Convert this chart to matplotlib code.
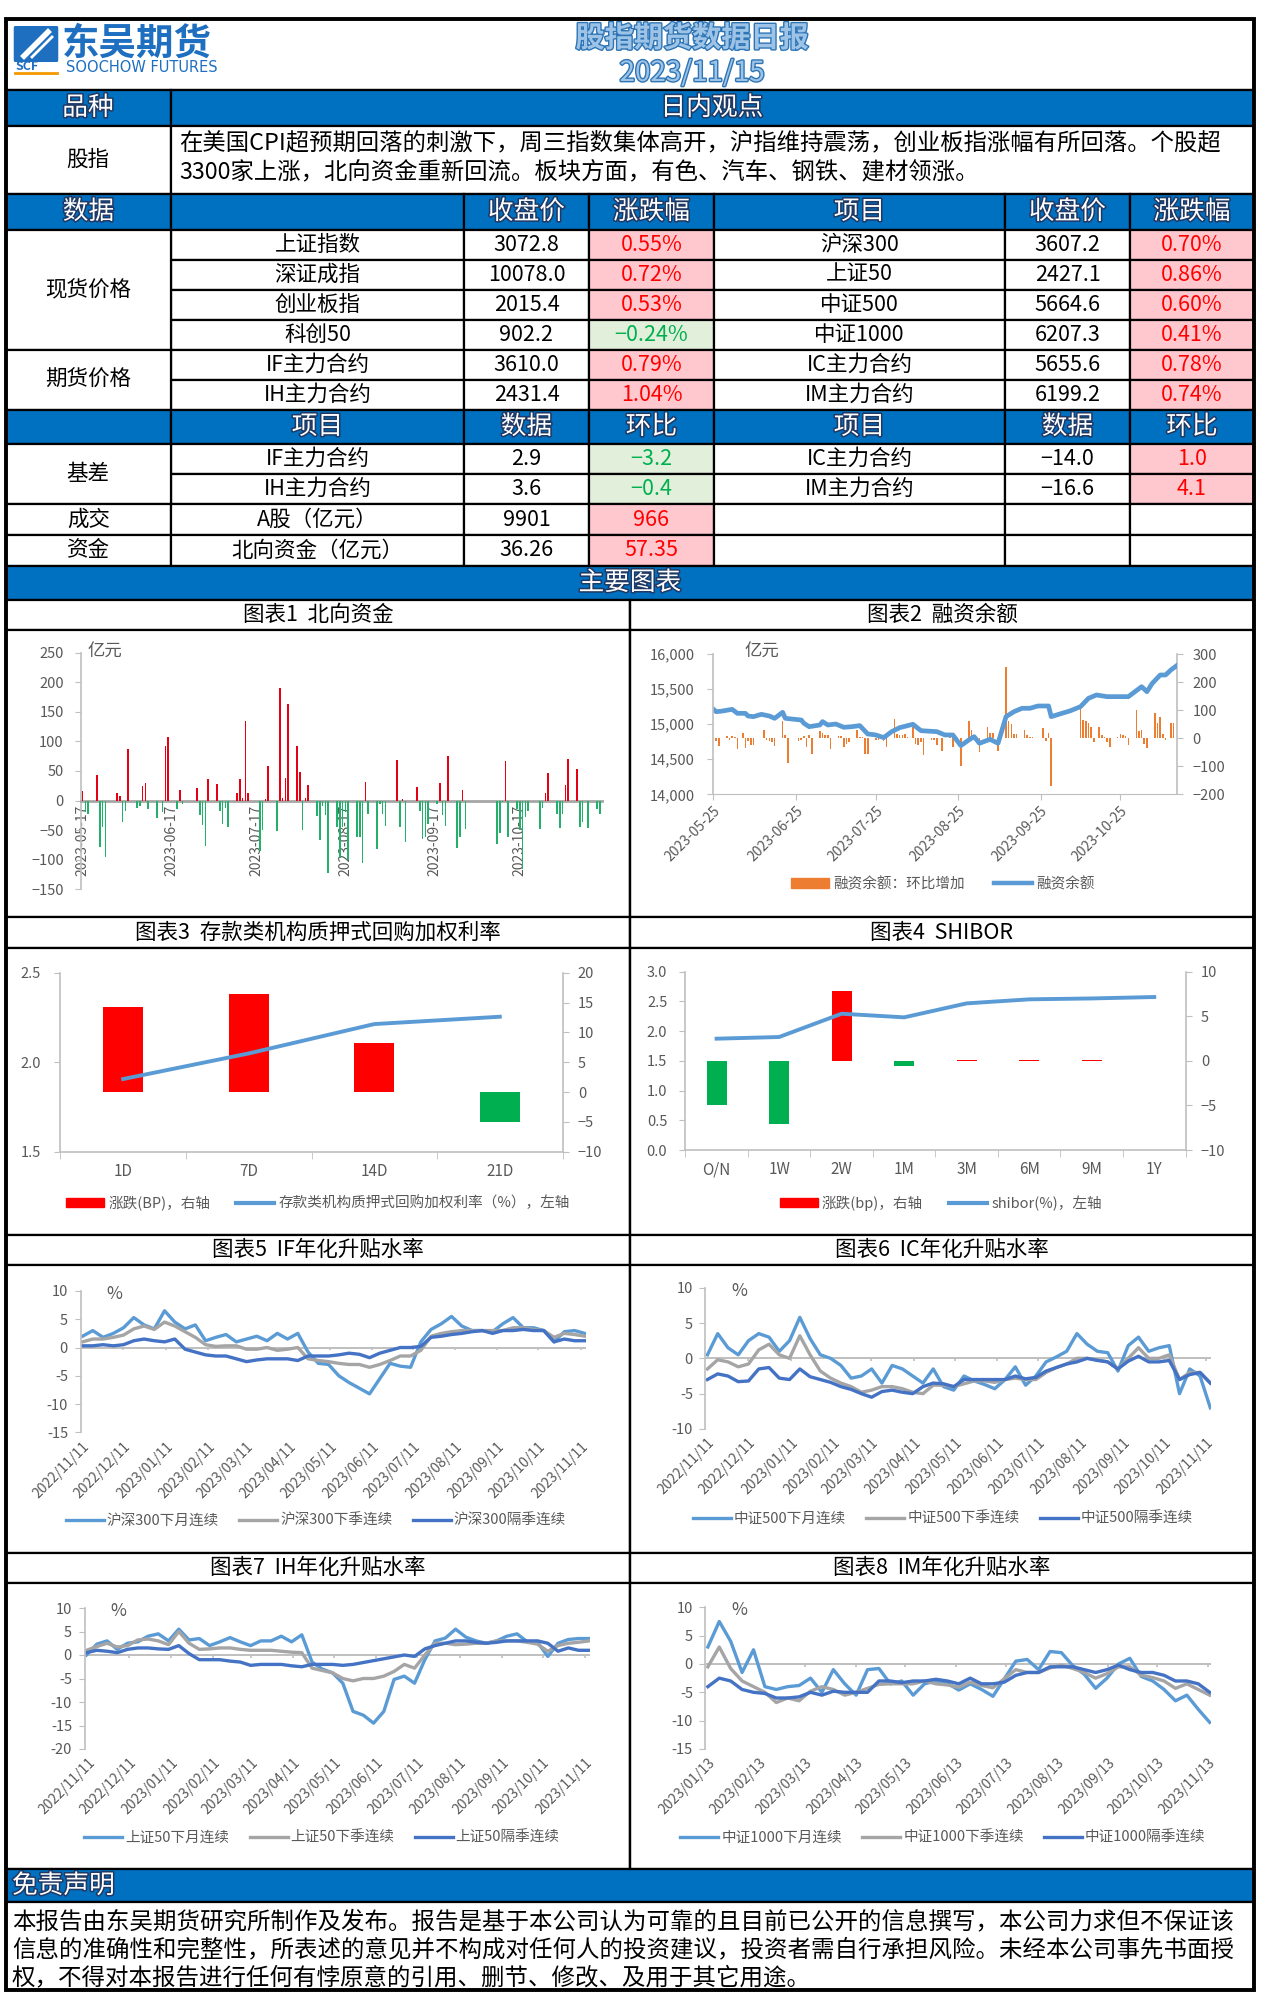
import numpy as np
import pandas as pd
import matplotlib
matplotlib.use("Agg")
import matplotlib.pyplot as plt
import matplotlib.patheffects as pe
from matplotlib.patches import Rectangle, Patch, FancyBboxPatch
from matplotlib.lines import Line2D

plt.rcParams['font.family'] = ['Noto Sans CJK SC', 'DejaVu Sans']

# ---------------- data ----------------
report_title = "股指期货数据日报"
report_date = "2023/11/15"
view_lines = ["在美国CPI超预期回落的刺激下，周三指数集体高开，沪指维持震荡，创业板指涨幅有所回落。个股超",
              "3300家上涨，北向资金重新回流。板块方面，有色、汽车、钢铁、建材领涨。"]

spot_l = ['上证指数', '深证成指', '创业板指', '科创50', 'IF主力合约', 'IH主力合约']
close_l = [3072.8, 10078.0, 2015.4, 902.2, 3610.0, 2431.4]
pct_l = [0.55, 0.72, 0.53, -0.24, 0.79, 1.04]
spot_r = ['沪深300', '上证50', '中证500', '中证1000', 'IC主力合约', 'IM主力合约']
close_r = [3607.2, 2427.1, 5664.6, 6207.3, 5655.6, 6199.2]
pct_r = [0.70, 0.86, 0.60, 0.41, 0.78, 0.74]

basis_l = ['IF主力合约', 'IH主力合约']
basis_l_val = [2.9, 3.6]
basis_l_chg = [-3.2, -0.4]
basis_r = ['IC主力合约', 'IM主力合约']
basis_r_val = [-14.0, -16.6]
basis_r_chg = [1.0, 4.1]
flow_names = ['A股（亿元）', '北向资金（亿元）']
flow_groups = ['成交', '资金']
flow_val = ['9901', '36.26']
flow_chg = ['966', '57.35']

disclaimer = ["本报告由东吴期货研究所制作及发布。报告是基于本公司认为可靠的且目前已公开的信息撰写，本公司力求但不保证该",
              "信息的准确性和完整性，所表述的意见并不构成对任何人的投资建议，投资者需自行承担风险。未经本公司事先书面授",
              "权，不得对本报告进行任何有悖原意的引用、删节、修改、及用于其它用途。"]

# chart 1: northbound flow, day offsets from 2023-05-17
north_days = [0, 1, 2, 5, 6, 7, 8, 12, 13, 14, 15, 16, 19, 20, 21, 22, 23, 26, 28, 29, 30, 33, 34, 35,
              40, 41, 42, 43, 44, 47, 48, 49, 50, 51, 54, 55, 56, 57, 58, 62, 63, 64, 65, 68, 69, 70, 71, 72,
              75, 76, 77, 78, 79, 82, 83, 84, 85, 86, 89, 90, 91, 92, 93, 96, 97, 98, 99, 100, 103, 104, 105, 106,
              110, 111, 112, 113, 117, 118, 119, 120, 121, 124, 125, 126, 127, 128, 131, 132, 133, 134,
              145, 146, 147, 148, 149, 152, 153, 154, 155, 156, 160, 161, 162, 163, 166, 167, 168, 169, 170,
              173, 174, 175, 177, 180, 181]
north_vals = [16, -20, -22, 43, -78, -45, -95, 13, 8, -37, -17, 87, -12, -10, 25, 30, -15, -30, -20, 93, 107, -14, 18, -5,
              22, -25, -42, -77, 36, 28, -18, -40, -12, -45, 12, 36, 5, 135, 12, -85, -50, 2, 58, -52, 190, 5, 38, 163,
              93, 49, -50, 5, 27, -26, -67, -10, -25, -122, -45, -97, -45, -20, -100, -62, -62, -105, 32, -23, -82, -5, -23, -43,
              68, -45, 2, -70, 23, -18, -65, -62, -40, -5, 30, -24, -43, 76, -80, -62, 18, -48,
              -73, -55, -3, 67, -62, -15, -50, -115, -28, -17, -48, -12, 12, 47, -23, -47, -22, 27, 71,
              53, -45, -37, -47, -15, -22]

# chart 2: margin balance, day offsets from 2023-05-25
bal_days = [0, 1, 3, 7, 9, 12, 13, 15, 18, 21, 23, 26, 27, 33, 34, 36, 40, 41, 43, 46, 49, 52, 55, 58, 61, 64, 67, 70,
            75, 78, 84, 87, 90, 93, 96, 98, 100, 104, 107, 110, 113, 116, 119, 122, 126, 127, 131, 134, 138, 141,
            144, 148, 153, 156, 161, 163, 165, 168, 170, 172, 174]
bal_vals = [15211, 15178, 15185, 15211, 15154, 15154, 15116, 15107, 15140, 15116, 15083, 15169, 15083, 15059, 15012,
            14964, 14988, 15036, 14988, 15002, 14955, 14964, 14979, 14860, 14846, 14808, 14893, 14950,
            14998, 14907, 14893, 14846, 14846, 14694, 14774, 14822, 14727, 14784, 14727, 15107, 15178, 15226, 15226,
            15259, 15259, 15107, 15154, 15188, 15249, 15368, 15416, 15392, 15392, 15392, 15534, 15463, 15582, 15701,
            15701, 15772, 15829]
chg_days = [1, 2, 5, 6, 7, 8, 9, 11, 12, 13, 14, 15, 19, 20, 21, 22, 23, 26, 27, 28, 32, 33, 34, 35, 36, 37,
            40, 41, 42, 43, 44, 47, 48, 49, 50, 51, 54, 55, 56, 57, 58, 61, 62, 64, 65, 68, 69, 70, 71, 72, 73,
            75, 76, 77, 78, 79, 82, 83, 84, 86, 89, 90, 93, 96, 97, 98, 100, 103, 104, 105, 107, 110, 111, 112, 113,
            114, 117, 118, 119, 120, 124, 125, 126, 127, 138, 139, 140, 141, 142, 143, 145, 146, 147, 148, 149,
            152, 153, 154, 155, 156, 159, 160, 161, 162, 163, 166, 167, 168, 169, 170, 172, 173]
chg_vals = [-10, -28, 8, -5, 8, 3, -40, 20, -35, -10, -25, -25, 30, -5, -10, -15, -28, 60, 10, -90, -10, -5, 8, -30, 10, -55,
            25, 20, 10, 10, -40, 8, 8, -30, -20, -12, 30, 5, 5, -55, -55, -5, -5, -10, -30, 70, 15, 10, 10, 15, 5,
            40, -20, -25, -15, -60, -5, -5, -25, -45, 10, -30, -100, 60, 30, 5, -50, 40, 20, 20, -45, 255, 60, 50, 15,
            15, 30, 10, 5, 5, 35, -10, 20, -170, 105, 65, 60, 55, 40, -15, 40, 10, 5, -15, -30,
            5, 15, 10, 8, -25, 100, 25, 30, -20, -35, 90, 55, 75, 15, -5, 55, 55]

# chart 3: pledged repo
repo_terms = ['1D', '7D', '14D', '21D']
repo_rate = [1.906, 2.049, 2.213, 2.254]
repo_bp = [14.3, 16.5, 8.2, -5.1]

# chart 4: shibor
shibor_terms = ['O/N', '1W', '2W', '1M', '3M', '6M', '9M', '1Y']
shibor_rate = [1.873, 1.901, 2.293, 2.232, 2.467, 2.535, 2.550, 2.574]
shibor_bp = [-5.0, -7.1, 7.8, -0.6, 0.1, 0.1, 0.1, 0.0]

# chart 5: IF annualised basis
if_next_month = [2.0, 3.0, 1.8, 2.5, 3.5, 5.3, 4.0, 3.3, 6.5, 4.5, 3.3, 4.0, 1.2, 1.8, 2.3, 1.0, 1.5, 2.0, 1.2, 2.5,
                 1.5, 2.5, -0.8, -2.8, -3.0, -5.0, -6.2, -7.2, -8.2, -5.5, -2.8, -3.3, -3.5, 1.0, 3.2, 4.2, 5.5, 3.8,
                 3.0, 3.0, 2.8, 4.2, 5.3, 3.5, 3.5, 3.0, 1.0, 2.8, 3.0, 2.5]
if_next_quarter = [1.0, 1.5, 1.5, 1.8, 2.2, 3.3, 3.8, 3.2, 4.5, 3.8, 2.8, 1.8, 0.5, 0.2, 0.3, 0.3, -0.3, -0.3, 0.0, -0.5,
                   -0.3, 0.0, -2.0, -2.3, -2.5, -2.8, -3.0, -3.0, -3.5, -3.0, -2.3, -1.5, -1.5, -0.5, 2.0, 2.5, 2.8,
                   3.0, 3.0, 3.0, 3.0, 3.0, 3.5, 3.5, 3.2, 3.0, 1.8, 2.5, 2.3, 2.0]
if_far_quarter = [0.3, 0.3, 0.5, 0.3, 0.5, 1.2, 1.5, 1.2, 1.0, 1.5, -0.3, -0.8, -1.3, -1.5, -1.5, -2.0, -2.5, -2.2, -2.0,
                  -2.0, -2.0, -2.3, -1.5, -1.5, -1.5, -1.3, -1.0, -1.2, -1.8, -1.0, -0.5, 0.0, 0.0, 0.2, 1.8, 2.0, 2.3,
                  2.5, 2.8, 3.0, 2.5, 3.0, 3.0, 3.2, 3.0, 3.0, 1.0, 1.5, 1.2, 1.2]

# chart 6: IC annualised basis
ic_next_month = [0.5, 3.5, 1.5, 0.5, 2.5, 3.5, 3.0, 1.0, 2.5, 5.8, 2.8, 0.5, 0.0, -1.0, -2.8, -2.5, -1.5, -3.5, -1.0, -1.5,
                 -2.5, -3.5, -1.5, -4.0, -4.5, -2.5, -3.2, -3.7, -4.3, -3.0, -1.2, -3.8, -2.5, -0.5, 0.2, 1.0, 3.5, 2.0,
                 1.0, 0.8, -1.8, 1.8, 3.0, 1.0, 1.5, 1.8, -5.0, -1.5, -2.5, -7.0]
ic_next_quarter = [-1.5, -0.2, -0.5, -1.2, -0.8, 1.2, 2.0, 0.5, 0.0, 3.2, 0.5, -1.8, -2.8, -3.5, -4.0, -4.8, -4.5, -4.0,
                   -4.0, -4.3, -4.8, -5.0, -3.8, -3.8, -4.0, -3.6, -3.2, -3.2, -3.4, -3.0, -2.8, -3.0, -3.0, -2.0, -1.3,
                   -0.8, 0.0, 0.0, -0.2, -0.5, -1.5, 0.0, 1.5, 0.0, 0.0, 0.5, -3.0, -2.0, -2.0, -3.5]
ic_far_quarter = [-3.0, -2.2, -2.5, -3.3, -3.2, -1.5, -1.3, -2.8, -3.0, -1.5, -2.6, -3.0, -3.4, -4.0, -4.4, -5.0, -5.5,
                  -4.7, -4.5, -4.8, -5.0, -4.0, -3.5, -3.6, -4.0, -3.0, -3.0, -3.0, -3.0, -3.0, -2.5, -2.9, -2.7, -1.8,
                  -1.3, -0.8, -0.5, 0.0, -0.3, -0.5, -1.5, -0.4, 0.3, -0.5, -0.5, -0.3, -3.0, -2.3, -2.0, -3.5]

# chart 7: IH annualised basis
ih_next_month = [0.0, 2.3, 3.0, 1.2, 2.5, 2.8, 4.0, 4.5, 3.0, 5.5, 3.2, 3.5, 2.0, 2.8, 3.7, 2.8, 2.0, 3.0, 3.0, 4.0,
                 2.8, 4.3, -1.5, -3.0, -3.8, -6.0, -12.0, -12.8, -14.5, -12.0, -5.2, -4.5, -6.0, -1.0, 3.0, 3.6, 5.5,
                 3.8, 3.0, 2.5, 3.0, 4.0, 4.5, 2.8, 2.7, -0.3, 2.5, 3.3, 3.5, 3.5]
ih_next_quarter = [1.0, 1.8, 2.5, 1.7, 2.0, 3.2, 3.4, 3.0, 2.2, 5.0, 2.5, 1.2, 1.3, 1.5, 1.5, 1.2, 1.0, 1.0, 1.0, 0.8,
                   0.6, 0.5, -2.8, -3.3, -3.8, -5.0, -5.5, -5.0, -5.0, -4.5, -3.5, -2.0, -2.8, 0.0, 2.5, 2.5, 2.2, 2.3,
                   2.5, 2.5, 3.0, 3.0, 3.0, 2.7, 2.3, 0.8, 2.0, 2.5, 2.7, 3.0]
ih_far_quarter = [0.5, 1.0, 0.8, 0.5, 1.2, 1.5, 1.5, 1.3, 1.2, 2.0, 0.3, -1.0, -1.0, -1.0, -1.3, -1.5, -2.2, -2.0, -2.0,
                  -2.0, -2.3, -2.5, -2.0, -2.0, -2.0, -2.2, -2.0, -1.6, -1.2, -0.8, -0.4, 0.0, -0.3, 1.3, 2.0, 2.5, 3.0,
                  3.0, 2.7, 2.5, 2.7, 3.0, 3.0, 3.0, 3.0, 2.5, 0.8, 1.5, 1.0, 1.0]

# chart 8: IM annualised basis
im_next_month = [3.0, 7.5, 4.0, -1.5, 2.5, -4.0, -4.5, -4.0, -3.8, -2.5, -5.0, -1.0, -3.5, -5.5, -1.0, -0.8, -3.5, -3.0,
                 -5.5, -3.5, -3.0, -3.4, -4.6, -3.5, -4.5, -5.7, -2.6, 0.5, 0.8, -1.0, 2.2, 2.0, -0.3, -1.8, -4.3,
                 -2.5, 0.0, 1.0, -2.2, -3.0, -4.5, -6.5, -5.5, -8.0, -10.3]
im_next_quarter = [-0.5, 3.0, -0.8, -3.0, -4.0, -5.0, -6.8, -6.0, -6.5, -4.8, -4.0, -4.5, -5.5, -5.0, -4.3, -3.6, -3.5,
                   -3.5, -3.5, -3.0, -3.5, -3.7, -4.1, -3.2, -3.8, -4.2, -2.6, -1.0, -1.5, -1.5, -0.7, -0.2, -0.8, -1.5,
                   -2.5, -1.7, -0.5, -0.5, -2.0, -2.4, -3.0, -4.3, -3.5, -4.5, -5.5]
im_far_quarter = [-4.0, -2.5, -3.0, -4.5, -5.0, -5.2, -6.0, -6.0, -5.8, -5.0, -5.5, -4.8, -5.0, -5.0, -5.0, -3.0, -3.0,
                  -3.3, -3.0, -3.0, -2.7, -3.0, -3.5, -2.5, -3.5, -3.5, -3.2, -2.0, -1.5, -1.5, -0.5, -0.5, -0.5, -1.0,
                  -1.5, -1.0, -0.2, -1.0, -1.5, -1.5, -2.0, -3.0, -3.0, -3.5, -5.0]

# ---------------- layout ----------------
W, H = 1262, 2011
fig = plt.figure(figsize=(W / 100, H / 100), dpi=100)
BLUE = '#0070c0'
GREY_AX = '#bfbfbf'
GREY_TX = '#595959'
LINE_COLS = ['#5b9bd5', '#a5a5a5', '#4472c4']
cols = [6, 171, 464, 589, 714, 1005, 1130, 1254]
CELL_FS = 15.5


def box(x0, y0, x1, y1, fc='white', ec='black', lw=1.6, z=-1):
    fig.add_artist(Rectangle((x0 / W, 1 - y1 / H), (x1 - x0) / W, (y1 - y0) / H, transform=fig.transFigure,
                             facecolor=fc, edgecolor=ec, lw=lw, zorder=z))


def put(x, y, s, size=15, color='black', ha='center', outline=None, weight='normal'):
    t = fig.text(x / W, 1 - y / H, s, ha=ha, va='center', fontsize=size, color=color, fontweight=weight)
    if outline:
        t.set_path_effects([pe.withStroke(linewidth=2.2, foreground=outline)])
    return t


def head(x, y, s, ha='center', size=18.5):
    put(x, y, s, size, 'white', ha, outline='#1f3864')


def add_ax(x0, y0, x1, y1):
    return fig.add_axes([x0 / W, 1 - y1 / H, (x1 - x0) / W, (y1 - y0) / H])


def fmt_num(v, nd):
    return f"{v:.{nd}f}".replace('-', '−')


def chg_cell(c, r0, r1, v, s):
    if v >= 0:
        fill, color = '#ffc7ce', '#ff0000'
    else:
        fill, color = '#e2efda', '#00b050'
    box(cols[c], r0, cols[c + 1], r1, fc=fill)
    put((cols[c] + cols[c + 1]) / 2, (r0 + r1) / 2, s, CELL_FS, color)


def cell(c, r0, r1, s, fc='white'):
    box(cols[c], r0, cols[c + 1], r1, fc=fc)
    if s:
        put((cols[c] + cols[c + 1]) / 2, (r0 + r1) / 2, s, CELL_FS)


# header with logo
box(6, 19, 1254, 90)
fig.add_artist(FancyBboxPatch((15 / W, 1 - 60 / H), 42 / W, 32 / H, boxstyle="round,pad=0.001",
                              transform=fig.transFigure, facecolor='#1f6fc1', edgecolor='none', zorder=2))
fig.add_artist(Line2D([24 / W, 48 / W], [1 - 56 / H, 1 - 32 / H], transform=fig.transFigure, color='white', lw=4, zorder=3))
fig.add_artist(Line2D([32 / W, 52 / W], [1 - 57 / H, 1 - 37 / H], transform=fig.transFigure, color='white', lw=2, zorder=3))
put(62, 43, "东吴期货", 27, '#1f6fc1', ha='left', weight='bold')
put(15, 67, "SCF", 9, '#1f6fc1', ha='left', weight='bold')
fig.add_artist(Line2D([15 / W, 57 / W], [1 - 73 / H, 1 - 73 / H], transform=fig.transFigure, color='#f39800', lw=2, zorder=3))
fig.text(66 / W, 1 - 67 / H, "SOOCHOW FUTURES", ha='left', va='center', fontsize=10.5, color='#1f6fc1',
         family=['DejaVu Sans Condensed', 'DejaVu Sans'])
t = put(692, 38, report_title, 21, '#9dc3e6', weight='bold')
t.set_path_effects([pe.withStroke(linewidth=2, foreground='#2e75b6')])
t = put(692, 73, report_date, 20, '#9dc3e6')
t.set_path_effects([pe.withStroke(linewidth=2, foreground='#2e75b6')])

# view row
box(6, 90, 171, 126, fc=BLUE)
box(171, 90, 1254, 126, fc=BLUE)
head(88, 108, "品种")
head(712, 108, "日内观点")
box(6, 126, 171, 194)
box(171, 126, 1254, 194)
put(88, 160, "股指", CELL_FS)
put(179, 143, view_lines[0], 16.8, ha='left')
put(179, 172, view_lines[1], 16.8, ha='left')

# price table
hdr1 = ['数据', '', '收盘价', '涨跌幅', '项目', '收盘价', '涨跌幅']
for c, s in enumerate(hdr1):
    box(cols[c], 194, cols[c + 1], 230, fc=BLUE)
    if s:
        head((cols[c] + cols[c + 1]) / 2, 212, s)
edges = [230, 260, 290, 320, 350, 380, 410]
for i in range(6):
    r0, r1 = edges[i], edges[i + 1]
    cell(1, r0, r1, spot_l[i])
    cell(2, r0, r1, fmt_num(close_l[i], 1))
    chg_cell(3, r0, r1, pct_l[i], fmt_num(pct_l[i], 2) + '%')
    cell(4, r0, r1, spot_r[i])
    cell(5, r0, r1, fmt_num(close_r[i], 1))
    chg_cell(6, r0, r1, pct_r[i], fmt_num(pct_r[i], 2) + '%')
box(6, 230, 171, 350)
put(88, 290, "现货价格", CELL_FS)
box(6, 350, 171, 410)
put(88, 380, "期货价格", CELL_FS)

hdr2 = ['', '项目', '数据', '环比', '项目', '数据', '环比']
for c, s in enumerate(hdr2):
    box(cols[c], 410, cols[c + 1], 444, fc=BLUE)
    if s:
        head((cols[c] + cols[c + 1]) / 2, 427, s)
edges2 = [444, 474, 504]
for i in range(2):
    r0, r1 = edges2[i], edges2[i + 1]
    cell(1, r0, r1, basis_l[i])
    cell(2, r0, r1, fmt_num(basis_l_val[i], 1))
    chg_cell(3, r0, r1, basis_l_chg[i], fmt_num(basis_l_chg[i], 1))
    cell(4, r0, r1, basis_r[i])
    cell(5, r0, r1, fmt_num(basis_r_val[i], 1))
    chg_cell(6, r0, r1, basis_r_chg[i], fmt_num(basis_r_chg[i], 1))
box(6, 444, 171, 504)
put(88, 474, "基差", CELL_FS)
edges3 = [504, 535, 566]
for i in range(2):
    r0, r1 = edges3[i], edges3[i + 1]
    cell(0, r0, r1, flow_groups[i])
    cell(1, r0, r1, flow_names[i])
    cell(2, r0, r1, flow_val[i])
    chg_cell(3, r0, r1, float(flow_chg[i]), flow_chg[i])
    for c in (4, 5, 6):
        cell(c, r0, r1, '')

box(6, 566, 1254, 600, fc=BLUE)
head(630, 583, "主要图表")

# chart frames
panel_rows = [(600, 630, 917), (917, 948, 1235), (1235, 1265, 1553), (1553, 1583, 1869)]
titles = [("图表1  北向资金", "图表2  融资余额"),
          ("图表3  存款类机构质押式回购加权利率", "图表4  SHIBOR"),
          ("图表5  IF年化升贴水率", "图表6  IC年化升贴水率"),
          ("图表7  IH年化升贴水率", "图表8  IM年化升贴水率")]
for (t0, t1, t2), (ta, tb) in zip(panel_rows, titles):
    box(6, t0, 630, t1)
    box(630, t0, 1254, t1)
    box(6, t1, 630, t2)
    box(630, t1, 1254, t2)
    put(318, (t0 + t1) / 2, ta, 15.5)
    put(942, (t0 + t1) / 2, tb, 15.5)


def style_y(ax, side='left', pad=8):
    ax.tick_params(axis='y', which='both', direction='out', length=4, color=GREY_AX, labelcolor=GREY_TX,
                   labelsize=10.5, pad=pad)
    ax.spines[side].set_color(GREY_AX)
    ax.spines[side].set_linewidth(1.2)


def day_axis(start, offsets):
    return pd.Timestamp(start) + pd.to_timedelta(offsets, unit='D')


# chart 1
ax1 = add_ax(80.5, 652.7, 602, 889.3)
d1 = day_axis('2023-05-17', north_days)
ax1.bar(d1, north_vals, width=0.6, color=['#e60012' if v >= 0 else '#22b06b' for v in north_vals], zorder=3)
ax1.set_ylim(-150, 250)
ax1.set_yticks(np.arange(-150, 251, 50))
ax1.set_xlim(pd.Timestamp('2023-05-17') - pd.Timedelta(days=0.7), pd.Timestamp('2023-05-17') + pd.Timedelta(days=181.8))
for s in ['top', 'right']:
    ax1.spines[s].set_visible(False)
ax1.spines['bottom'].set_position(('data', 0))
ax1.spines['bottom'].set_color('#a6a6a6')
ax1.spines['bottom'].set_linewidth(2)
style_y(ax1)
tk1 = pd.date_range('2023-05-17', periods=6, freq=pd.DateOffset(months=1))
ax1.set_xticks(tk1)
ax1.set_xticklabels([d.strftime('%Y-%m-%d') for d in tk1], rotation=90, ha='center', va='top')
ax1.tick_params(axis='x', length=0, pad=3, labelsize=10, labelcolor=GREY_TX)
put(88, 652, "亿元", 12.5, GREY_TX, ha='left')

# chart 2
ax2 = add_ax(712.7, 654, 1177, 794.3)
ax2r = ax2.twinx()
ax2r.bar(day_axis('2023-05-25', chg_days), chg_vals, width=0.6, color='#ed7d31')
ax2.plot(day_axis('2023-05-25', bal_days), bal_vals, color='#5b9bd5', lw=3.4)
ax2.set_zorder(ax2r.get_zorder() + 1)
ax2.patch.set_visible(False)
ax2.set_ylim(14000, 16000)
ax2.set_yticks(np.arange(14000, 16001, 500))
ax2.set_yticklabels([f"{v:,.0f}" for v in np.arange(14000, 16001, 500)])
ax2r.set_ylim(-200, 300)
ax2r.set_yticks(np.arange(-200, 301, 100))
ax2.set_xlim(pd.Timestamp('2023-05-25') - pd.Timedelta(days=0.3), pd.Timestamp('2023-05-25') + pd.Timedelta(days=174.3))
for a in (ax2, ax2r):
    a.spines['top'].set_visible(False)
ax2.spines['right'].set_visible(False)
ax2r.spines['left'].set_visible(False)
ax2r.spines['bottom'].set_visible(False)
style_y(ax2, 'left', 9)
style_y(ax2r, 'right', 7)
ax2.spines['bottom'].set_color(GREY_AX)
tk2 = pd.date_range('2023-05-25', periods=6, freq=pd.DateOffset(months=1))
ax2.set_xticks(tk2)
ax2.set_xticklabels([d.strftime('%Y-%m-%d') for d in tk2], rotation=45, ha='right', rotation_mode='anchor')
ax2.tick_params(axis='x', length=4, color=GREY_AX, labelsize=10, labelcolor=GREY_TX, pad=3)
put(745, 652, "亿元", 12.5, GREY_TX, ha='left')
ax2.legend([Patch(color='#ed7d31'), Line2D([], [], color='#5b9bd5', lw=3.2)], ['融资余额：环比增加', '融资余额'],
           loc='center', bbox_to_anchor=(943 / W, 1 - 884 / H), bbox_transform=fig.transFigure, ncol=2,
           frameon=False, fontsize=10.5, labelcolor=GREY_TX, handlelength=2.6, handleheight=0.6,
           handletextpad=0.3, columnspacing=2.0)


# charts 3 and 4
def curve_panel(bx, terms, rate, bp, lim_l, step_l, lim_r, step_r, labels, leg_x, pads):
    ax = add_ax(*bx)
    axr = ax.twinx()
    x = np.arange(len(terms))
    axr.bar(x, bp, width=0.32, color=['#ff0000' if v >= 0 else '#00b050' for v in bp])
    ax.plot(x, rate, color='#5b9bd5', lw=2.8)
    ax.set_zorder(axr.get_zorder() + 1)
    ax.patch.set_visible(False)
    ax.set_ylim(*lim_l)
    yt = np.arange(lim_l[0], lim_l[1] + 1e-9, step_l)
    ax.set_yticks(yt)
    ax.set_yticklabels([f"{v:.1f}" for v in yt])
    axr.set_ylim(*lim_r)
    axr.set_yticks(np.arange(lim_r[0], lim_r[1] + 1, step_r))
    ax.set_xlim(-0.5, len(terms) - 0.5)
    ax.set_xticks(x)
    ax.set_xticklabels(terms)
    ax.set_xticks(np.arange(-0.5, len(terms)), minor=True)
    ax.tick_params(axis='x', which='major', length=0, pad=8, labelsize=11, labelcolor=GREY_TX)
    ax.tick_params(axis='x', which='minor', length=5, color=GREY_AX)
    for a in (ax, axr):
        a.spines['top'].set_visible(False)
    ax.spines['right'].set_visible(False)
    axr.spines['left'].set_visible(False)
    axr.spines['bottom'].set_visible(False)
    ax.spines['bottom'].set_color(GREY_AX)
    ax.spines['bottom'].set_linewidth(1.2)
    style_y(ax, 'left', pads[0])
    style_y(axr, 'right', pads[1])
    ax.legend([Patch(color='#ff0000'), Line2D([], [], color='#5b9bd5', lw=3)], labels,
              loc='center', bbox_to_anchor=(leg_x / W, 1 - 1203 / H), bbox_transform=fig.transFigure, ncol=2,
              frameon=False, fontsize=10.5, labelcolor=GREY_TX, handlelength=2.6, handleheight=0.6,
              handletextpad=0.3, columnspacing=1.8)


curve_panel((60.4, 972.7, 562.6, 1151.7), repo_terms, repo_rate, repo_bp, (1.5, 2.5), 0.5, (-10, 20), 5,
            ['涨跌(BP)，右轴', '存款类机构质押式回购加权利率（%），左轴'], 318, (10, 7))
curve_panel((685.3, 971.7, 1185.5, 1150), shibor_terms, shibor_rate, shibor_bp, (0, 3.0), 0.5, (-10, 10), 5,
            ['涨跌(bp)，右轴', 'shibor(%)，左轴'], 941, (9, 7))


# charts 5-8
def spread_panel(bx, start, end, series, names, lim, tick_start, n_ticks, fmt, pct_xy, leg_xy):
    ax = add_ax(*bx)
    dates = pd.date_range(start, end, periods=len(series[0]))
    for vals, name, col in zip(series, names, LINE_COLS):
        ax.plot(dates, vals, color=col, lw=2.4, label=name)
    ax.set_ylim(*lim)
    yt = np.arange(lim[0], lim[1] + 1, 5)
    ax.set_yticks(yt)
    ax.set_yticklabels([str(int(v)) for v in yt])
    ax.set_xlim(dates[0] - pd.Timedelta(days=1.5), dates[-1] + pd.Timedelta(days=0.5))
    ticks = pd.date_range(tick_start, periods=n_ticks, freq=pd.DateOffset(months=1))
    ax.set_xticks(ticks)
    ax.set_xticklabels([d.strftime(fmt) for d in ticks], rotation=45, ha='right', rotation_mode='anchor')
    ax.tick_params(axis='x', length=0, pad=5, labelsize=10, labelcolor=GREY_TX)
    ax.axhline(0, color=GREY_AX, lw=1.4, zorder=1)
    ax.vlines(ticks[1:], -(lim[1] - lim[0]) * 0.02, 0, color=GREY_AX, lw=1.2, zorder=1)
    for s in ['top', 'right', 'bottom']:
        ax.spines[s].set_visible(False)
    style_y(ax, 'left', 5)
    put(pct_xy[0], pct_xy[1], "%", 12.5, GREY_TX, ha='left')
    ax.legend(loc='center', bbox_to_anchor=(leg_xy[0] / W, 1 - leg_xy[1] / H), bbox_transform=fig.transFigure,
              ncol=3, frameon=False, fontsize=10.5, labelcolor=GREY_TX, handlelength=2.6, handletextpad=0.2,
              columnspacing=1.4)


spread_panel((80.5, 1291, 585.5, 1432.3), '2022-11-11', '2023-11-14',
             [if_next_month, if_next_quarter, if_far_quarter], ['沪深300下月连续', '沪深300下季连续', '沪深300隔季连续'],
             (-15, 10), '2022-11-11', 13, '%Y/%m/%d', (106, 1294), (316, 1521))
spread_panel((705.4, 1287.7, 1211, 1429), '2022-11-11', '2023-11-14',
             [ic_next_month, ic_next_quarter, ic_far_quarter], ['中证500下月连续', '中证500下季连续', '中证500隔季连续'],
             (-10, 10), '2022-11-11', 13, '%Y/%m/%d', (731, 1291), (943, 1519))
spread_panel((84.5, 1608, 589.5, 1749), '2022-11-10', '2023-11-14',
             [ih_next_month, ih_next_quarter, ih_far_quarter], ['上证50下月连续', '上证50下季连续', '上证50隔季连续'],
             (-20, 10), '2022-11-11', 13, '%Y/%m/%d', (110, 1611), (322, 1838))
spread_panel((705.4, 1607.3, 1210.5, 1749), '2023-01-13', '2023-11-14',
             [im_next_month, im_next_quarter, im_far_quarter], ['中证1000下月连续', '中证1000下季连续', '中证1000隔季连续'],
             (-15, 10), '2023-01-13', 11, '%Y/%m/%d', (731, 1610), (943, 1838))

# disclaimer
box(6, 1869, 1254, 1902, fc=BLUE)
head(12, 1886, "免责声明", ha='left')
box(6, 1902, 1254, 1990)
for i, s in enumerate(disclaimer):
    put(12, 1922 + 28 * i, s, 16.9, ha='left')

# outer frame
box(6, 19, 1254, 1990, fc='none', lw=2.8, z=6)
fig.add_artist(Line2D([630 / W, 630 / W], [1 - 600 / H, 1 - 1869 / H], transform=fig.transFigure, color='black',
                      lw=1.6, zorder=6))

fig.savefig('out.png', dpi=100)
